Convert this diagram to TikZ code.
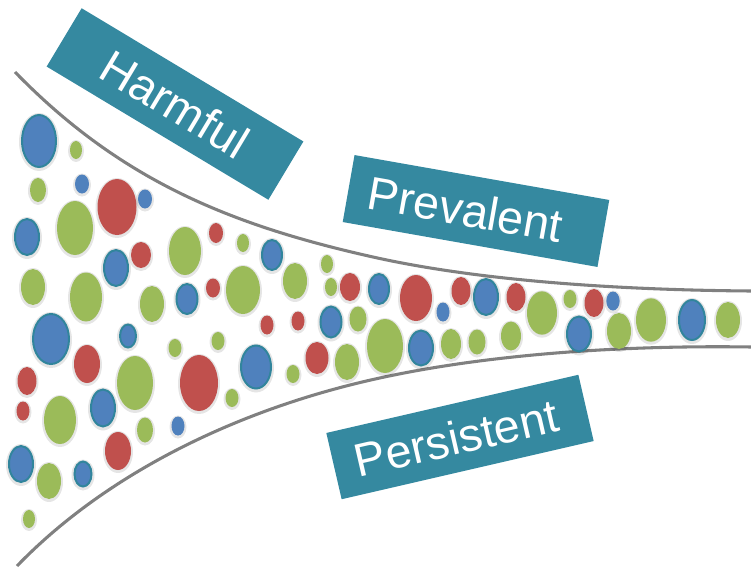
\documentclass[tikz,border=0pt]{standalone}
\usepackage{fontspec}
\setmainfont{Liberation Sans}
\definecolor{teal1}{RGB}{53,137,160}
\definecolor{bluef}{RGB}{79,129,189}
\definecolor{bluel}{RGB}{49,133,156}
\definecolor{greenf}{RGB}{155,187,89}
\definecolor{redf}{RGB}{192,80,77}
\definecolor{curvec}{RGB}{128,128,128}
\begin{document}
\begin{tikzpicture}[x=0.75pt,y=-0.75pt,
  label box/.style={fill=teal1, text=white, minimum width=194pt, minimum height=51pt,
    inner sep=0pt, font=\fontsize{35}{40}\selectfont},
  funnel/.style={draw=curvec, line width=2.3pt},
  glow/.style={fill=black, opacity=0.10},
  gdot/.style={fill=greenf},
  rdot/.style={fill=redf},
  bdot/.style={fill=bluef, draw=bluel, line width=1.5pt},
  bsdot/.style={fill=bluef}]
\useasboundingbox (0,0) rectangle (751,568);
% funnel outline
\coordinate (u0) at (15,72);
\coordinate (u1) at (373,257);
\coordinate (u2) at (751,291);
\coordinate (l0) at (17,566);
\coordinate (l1) at (350,385);
\coordinate (l2) at (751,347);
\draw[funnel] (u0) .. controls (120,180) and (230,225) .. (u1) .. controls (480,281) and (620,290) .. (u2);
\draw[funnel] (l0) .. controls (100,480) and (220,418) .. (l1) .. controls (470,354.5) and (620,345) .. (l2);
% glow
\foreach \x/\y/\a/\b in {39/141/18/27,76/150/6/9,38/190/8/12,82/184/7/9.5,117/207/19.5/28,145/199/7/9.5,27/237/13/19,75/228/18/27,116/268/13/19,141/255/10/13,33/287/12/18,86/297/16/24.5,152/304/12/18,187/299/11.5/16,216/233/7/10,243/243/6/9,185/251/16/24,213/288/7/9.5,51/339/19/26,128/336/9/12.5,175/348/6.5/9,218/341/6.5/9,87/364/13/19,27/381/9.5/14,135/383/18/27,199/383/19/28,232/398/6.5/9,23/411/6.5/9.5,60/420/16/24,103/408/13/19.5,145/430/8/12.5,178/426/6.5/9.5,118/451/13/19,21/464/13/19,49/481/12/18,83/474/9.5/13.5,29/519/6/9,272/255/11/16,243/290/17/24,295/281/12/18,327/264/6/9,331/287/6/9,350/287/10/14,379/289/11/16,416/298/16/23,443/312/6.5/9.5,461/291/9.5/14,486/297/13/19,267/325/6.5/9.5,298/321/6.5/9.5,331/322/11.5/16.5,358/319/8.5/12.5,385/346/18/27,421/348/13/18.5,451/344/10/15,477/342/8.5/12.5,256/367/16/22.5,317/358/11.5/16,347/362/12/18,293/374/6.5/9,516/297/9.5/14,542/313/15/21.7,570/299/6.5/9,594/303/9.5/14,613/301/6.7/9.5,511/336/10/14.5,579/334/13/18.5,619/331/12/18,651/320/15/21.7,692/320/14/21,728/320/12/18}
  \fill[glow] (\x,\y+1) ellipse [x radius=\a+2, y radius=\b+2];
% green dots
\foreach \x/\y/\a/\b in {76/150/6/9,38/190/8/12,75/228/18/27,33/287/12/18,86/297/16/24.5,152/304/12/18,243/243/6/9,185/251/16/24,175/348/6.5/9,218/341/6.5/9,135/383/18/27,232/398/6.5/9,60/420/16/24,145/430/8/12.5,49/481/12/18,29/519/6/9,243/290/17/24,295/281/12/18,327/264/6/9,331/287/6/9,358/319/8.5/12.5,385/346/18/27,451/344/10/15,477/342/8.5/12.5,347/362/12/18,293/374/6.5/9,542/313/15/21.7,570/299/6.5/9,511/336/10/14.5,619/331/12/18,651/320/15/21.7,728/320/12/18}
  \fill[gdot] (\x,\y) ellipse [x radius=\a, y radius=\b];
% red dots
\foreach \x/\y/\a/\b in {117/207/19.5/28,141/255/10/13,216/233/7/10,213/288/7/9.5,87/364/13/19,27/381/9.5/14,199/383/19/28,23/411/6.5/9.5,118/451/13/19,350/287/10/14,416/298/16/23,461/291/9.5/14,267/325/6.5/9.5,298/321/6.5/9.5,317/358/11.5/16,516/297/9.5/14,594/303/9.5/14}
  \fill[rdot] (\x,\y) ellipse [x radius=\a, y radius=\b];
% blue dots with rim
\foreach \x/\y/\a/\b in {39/141/18/27,27/237/13/19,116/268/13/19,187/299/11.5/16,51/339/19/26,128/336/9/12.5,103/408/13/19.5,21/464/13/19,83/474/9.5/13.5,272/255/11/16,379/289/11/16,486/297/13/19,331/322/11.5/16.5,421/348/13/18.5,256/367/16/22.5,579/334/13/18.5,692/320/14/21}
  \filldraw[bdot] (\x,\y) ellipse [x radius=\a-1, y radius=\b-1];
% small blue dots
\foreach \x/\y/\a/\b in {82/184/7/9.5,145/199/7/9.5,178/426/6.5/9.5,443/312/6.5/9.5,613/301/6.7/9.5}
  \fill[bsdot] (\x,\y) ellipse [x radius=\a, y radius=\b];
% labels
\node[label box, rotate=-31] (harmful) at (175,104) {Harmful};
\node[label box, rotate=-10] (prevalent) at (476,211) {Prevalent\hspace*{16pt}};
\node[label box, rotate=13] (persistent) at (460,437) {Persistent\hspace*{6pt}};
\end{tikzpicture}
\end{document}
